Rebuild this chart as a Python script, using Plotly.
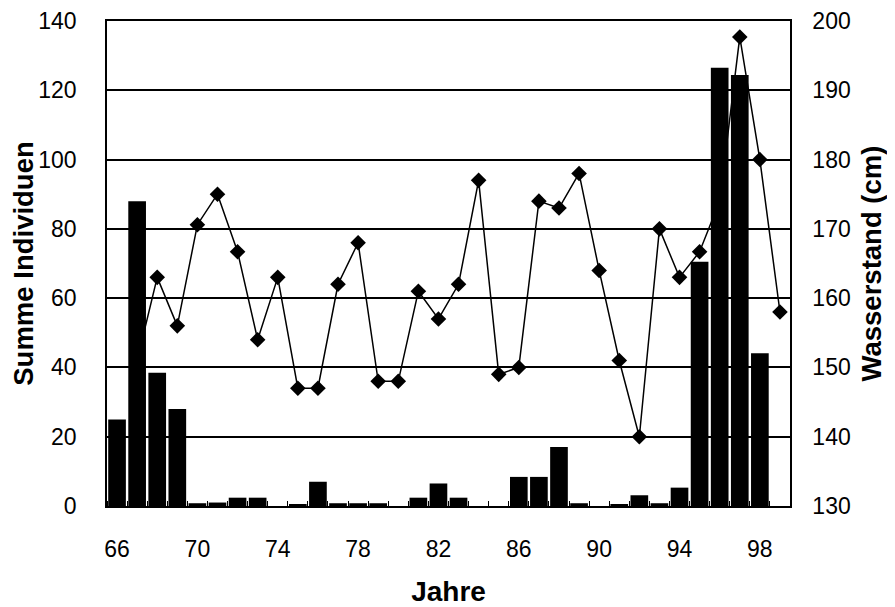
import plotly.graph_objects as go

years = list(range(66, 100))
individuen = [25, 88, 38.5, 28, 0.8, 1, 2.4, 2.4, 0, 0.5, 7, 0.8, 0.8, 0.8, 0, 2.4,
              6.5, 2.4, 0, 0, 8.4, 8.4, 17, 0.8, 0, 0.3, 3.1, 0.8, 5.3, 70.5,
              126.5, 124.4, 44.1, None]
wasserstand = [None, 151, 163, 156, 170.6, 175, 166.7, 154, 163, 147, 147, 162, 168,
               148, 148, 161, 157, 162, 177, 149, 150, 174, 173, 178, 164, 151,
               140, 170, 163, 166.7, 174, 197.7, 180, 158]
x_ticks = [66, 70, 74, 78, 82, 86, 90, 94, 98]
left_ticks = [0, 20, 40, 60, 80, 100, 120, 140]
right_ticks = [130, 140, 150, 160, 170, 180, 190, 200]

FONT = "Liberation Sans, Arial, sans-serif"

fig = go.Figure()
fig.add_trace(go.Scatter(
    x=years, y=wasserstand, mode="lines+markers", yaxis="y",
    line=dict(color="black", width=1.5),
    marker=dict(symbol="diamond", size=12, color="black"),
    connectgaps=False, showlegend=False,
))
fig.add_trace(go.Bar(
    x=years, y=individuen, yaxis="y2",
    marker=dict(color="black", line=dict(width=0)),
    showlegend=False,
))

fig.update_layout(
    width=887, height=599,
    margin=dict(l=99, r=105, t=13, b=101, autoexpand=False),
    plot_bgcolor="white", paper_bgcolor="white",
    bargap=0.12,
    font=dict(family=FONT, color="black", size=23),
    xaxis=dict(
        range=[65.5, 99.5], tickvals=x_ticks, ticktext=[str(v) for v in x_ticks],
        showgrid=False, zeroline=False, showline=True, linecolor="black",
        linewidth=1.5, mirror=True, ticks="", ticklabelstandoff=22,
        tickfont=dict(size=23), automargin=False,
        minor=dict(tick0=65.5, dtick=1, ticks="inside", ticklen=5,
                   tickcolor="black", showgrid=False),
        title=dict(text="<b>Jahre</b>", font=dict(size=28), standoff=24),
    ),
    yaxis=dict(
        side="right", range=[130, 200], tickvals=right_ticks,
        showgrid=True, gridcolor="black", gridwidth=1.5, zeroline=False,
        showline=True, linecolor="black", linewidth=1.5, automargin=False,
        ticks="", ticklabelstandoff=16, tickfont=dict(size=23),
        ticklabeloverflow="allow",
        title=dict(text="<b>Wasserstand (cm)</b>", font=dict(size=27.5), standoff=12),
    ),
    yaxis2=dict(
        side="left", overlaying="y", range=[0, 140], tickvals=left_ticks,
        showgrid=False, zeroline=False, showline=True, linecolor="black",
        linewidth=1.5, ticks="", ticklabelstandoff=24, tickfont=dict(size=23),
        automargin=False, ticklabeloverflow="allow",
        title=dict(text="<b>Summe Individuen</b>", font=dict(size=27.5), standoff=6),
    ),
)

fig.write_html("out.html")
